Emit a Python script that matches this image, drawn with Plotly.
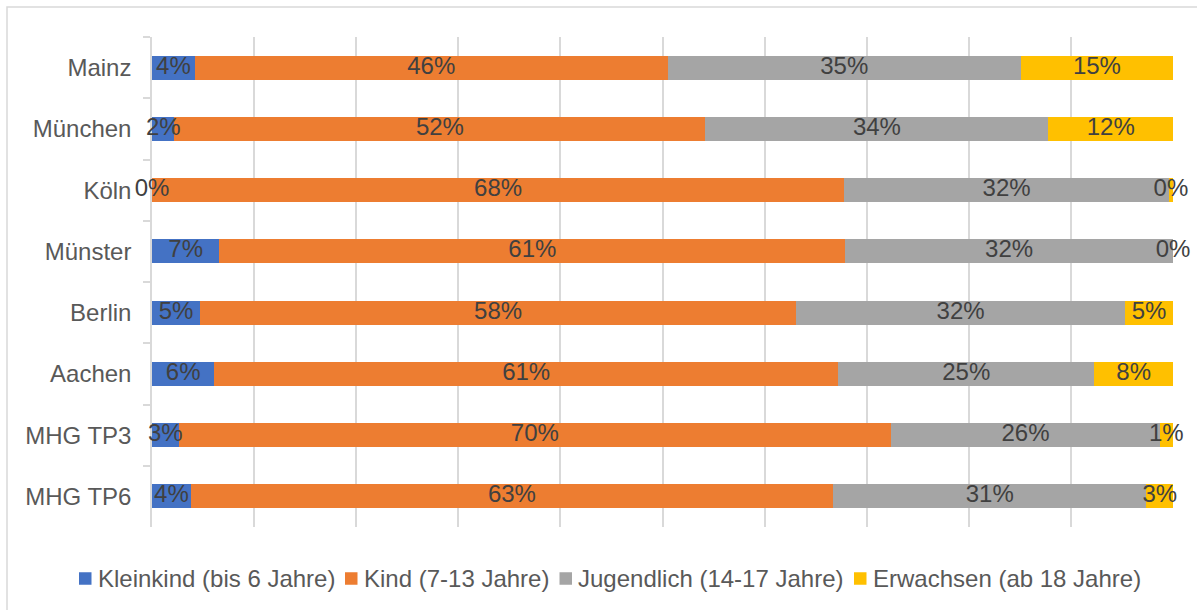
import plotly.graph_objects as go
import numpy as np

# Age-group shares (in percent) per study site
categories = ["Mainz", "München", "Köln", "Münster", "Berlin", "Aachen", "MHG TP3", "MHG TP6"]
kleinkind = [4.2, 2.2, 0.0, 6.6, 4.7, 6.1, 2.6, 3.8]
kind = [46.3, 52.0, 67.8, 61.3, 58.4, 61.1, 69.8, 62.9]
jugendlich = [34.6, 33.6, 31.8, 32.1, 32.2, 25.1, 26.3, 30.7]
erwachsen = [14.9, 12.2, 0.4, 0.0, 4.7, 7.7, 1.3, 2.6]

series_names = [
    "Kleinkind (bis 6 Jahre)",
    "Kind (7-13 Jahre)",
    "Jugendlich (14-17 Jahre)",
    "Erwachsen (ab 18 Jahre)",
]
series_values = [kleinkind, kind, jugendlich, erwachsen]
colors = ["#4472C4", "#ED7D31", "#A5A5A5", "#FFC000"]

FONT = "Liberation Sans, Arial, sans-serif"
W, H = 1197, 610
ML, MR, MT, MB = 152, 24, 37, 83
PW, PH = W - ML - MR, H - MT - MB


def px_x(px):
    """Pixel column -> paper x."""
    return (px - ML) / PW


def px_y(py):
    """Pixel row -> paper y."""
    return (H - MB - py) / PH


fig = go.Figure()

# Stacked horizontal bars
for name, vals, col in zip(series_names, series_values, colors):
    fig.add_trace(go.Bar(
        y=categories, x=vals, name=name, orientation="h",
        marker=dict(color=col, line=dict(width=0)),
        textposition="none", hoverinfo="x+y+name", showlegend=False,
    ))

# Data labels centred on each segment (allowed to overflow the segment)
cum = np.zeros(len(categories))
for vals in series_values:
    v = np.array(vals)
    centers = cum + v / 2
    fig.add_trace(go.Scatter(
        y=categories, x=centers, mode="text",
        text=[f"{round(x):d}%" for x in v],
        textfont=dict(family=FONT, size=24, color="#404040"),
        showlegend=False, hoverinfo="skip", cliponaxis=False,
    ))
    cum = cum + v

# Legend row below the plot: coloured square + label
shapes = []
annotations = []
legend_left = [79, 345, 559.5, 854]
legend_y = 578.5
sq = 12.5
for name, col, lx in zip(series_names, colors, legend_left):
    shapes.append(dict(
        type="rect", xref="paper", yref="paper",
        x0=px_x(lx), x1=px_x(lx + sq),
        y0=px_y(legend_y + sq / 2), y1=px_y(legend_y - sq / 2),
        fillcolor=col, line=dict(width=0),
    ))
    annotations.append(dict(
        xref="paper", yref="paper", x=px_x(lx + sq + 4), y=px_y(legend_y),
        xanchor="left", yanchor="middle", showarrow=False, text=name,
        font=dict(family=FONT, size=24, color="#595959"),
    ))

# Light chart-area frame
shapes.append(dict(
    type="rect", xref="paper", yref="paper",
    x0=px_x(7), x1=px_x(1215), y0=px_y(630), y1=px_y(7),
    line=dict(color="#D9D9D9", width=1.5), fillcolor="rgba(0,0,0,0)",
    layer="below",
))

fig.update_layout(
    width=W, height=H,
    barmode="stack", bargap=0.61,
    plot_bgcolor="white", paper_bgcolor="white",
    margin=dict(l=ML, r=MR, t=MT, b=MB),
    font=dict(family=FONT, color="#595959", size=24),
    showlegend=False,
    xaxis=dict(
        range=[0, 100], dtick=10, showticklabels=False,
        showgrid=True, gridcolor="#D9D9D9", gridwidth=1.5,
        zeroline=False, showline=False, fixedrange=True,
        layer="below traces",
    ),
    yaxis=dict(
        categoryorder="array", categoryarray=categories, autorange="reversed",
        showline=True, linecolor="#D9D9D9", linewidth=1.5,
        ticks="outside", ticklen=7, tickcolor="#D9D9D9", tickwidth=1.5,
        tickson="boundaries", ticklabelstandoff=14,
        tickfont=dict(family=FONT, size=24, color="#595959"),
        showgrid=False, zeroline=False, layer="below traces",
    ),
    shapes=shapes,
    annotations=annotations,
)

fig.write_html("out.html")
